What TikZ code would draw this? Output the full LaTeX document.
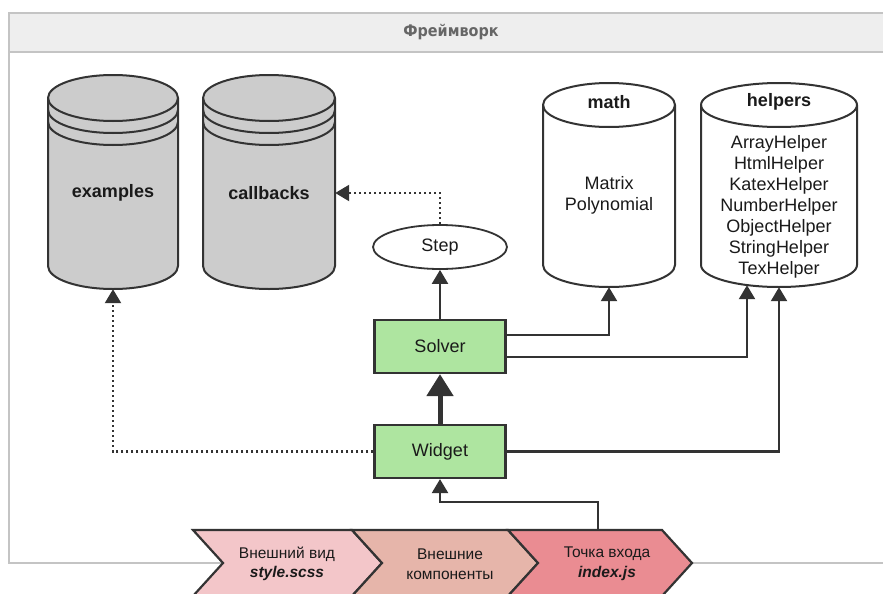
\documentclass[tikz,border=0pt]{standalone}
\usepackage{fontspec}
\setmainfont{Liberation Sans}
\newfontfamily\titlefont{DejaVu Sans Condensed}
\usetikzlibrary{arrows.meta,shapes.geometric}
\definecolor{ln}{HTML}{333333}
\definecolor{dbgray}{HTML}{CCCCCC}
\definecolor{grn}{HTML}{AEE5A0}
\definecolor{frm}{HTML}{C4C4C4}
\definecolor{hdr}{HTML}{EEEEEE}
\definecolor{ch1}{HTML}{F3C6C9}
\definecolor{ch2}{HTML}{E6B5AA}
\definecolor{ch3}{HTML}{EA8C92}
\definecolor{txt}{HTML}{1A1A1A}
\newcommand\cylshape[6]{%
  \filldraw[cylline,fill=#6] (#1-#4,#2) -- (#1-#4,#3)
    arc[start angle=180,end angle=360,x radius=#4pt,y radius=#5pt] -- (#1+#4,#2)
    arc[start angle=0,end angle=180,x radius=#4pt,y radius=#5pt] -- cycle;
  \draw[cylline] (#1-#4,#2) arc[start angle=180,end angle=360,x radius=#4pt,y radius=#5pt];}
\newcommand\cylring[4]{%
  \draw[cylline] (#1-#3,#2) arc[start angle=180,end angle=360,x radius=#3pt,y radius=#4pt];}
\begin{document}
\begin{tikzpicture}[x=1pt,y=-1pt,
  cylline/.style={draw=ln,line width=2pt},
  area/.style={draw=none,inner sep=0pt,minimum height=#1},
  lbl/.style={text=txt,font=\fontsize{18}{21}\selectfont,align=center,inner sep=0pt},
  blbl/.style={lbl,font=\fontsize{18}{21}\selectfont\bfseries},
  greenbox/.style={draw=ln,line width=2.2pt,fill=grn,minimum width=131pt,minimum height=53pt,inner sep=0pt,text=txt,font=\fontsize{18}{21}\selectfont},
  conn/.style={draw=ln,line width=2.3pt,-{Triangle[width=16pt,length=14pt]}},
  bigconn/.style={draw=ln,line width=5pt,-{Triangle[width=26pt,length=22pt]}},
  dotconn/.style={conn,dash pattern=on 2.2pt off 2.8pt},
  chev/.style={draw=ln,line width=2.2pt,line join=miter},
  chtxt/.style={text=txt,font=\fontsize{15.5}{19.5}\selectfont,align=center,inner sep=0pt}]
\clip (0,0) rectangle (883,594);
\useasboundingbox (0,0) rectangle (883,594);
% frame
\fill[white] (0,0) rectangle (883,594);
\draw[frm,line width=2pt,fill=white] (9,13) rectangle (900,563);
\draw[frm,line width=2pt,fill=hdr] (9,13) rectangle (900,52);
\node[text=black!60,font=\titlefont\bfseries\fontsize{16}{19}\selectfont] (title) at (451,32) {Фреймворк};
% cylinders
\cylshape{113}{98}{266}{65}{23}{dbgray}
\cylring{113}{110}{65}{23}
\cylring{113}{122}{65}{23}
\cylshape{269}{98}{266}{66}{23}{dbgray}
\cylring{269}{110}{66}{23}
\cylring{269}{122}{66}{23}
\cylshape{609}{105}{265}{66}{22}{white}
\cylshape{779}{105}{265}{78}{22}{white}
\node[area=214pt,minimum width=130pt] (examples) at (113,182) {};
\node[area=214pt,minimum width=132pt] (callbacks) at (269,182) {};
\node[area=204pt,minimum width=132pt] (math) at (609,185) {};
\node[area=204pt,minimum width=156pt] (helpers) at (779,185) {};
\node[blbl] (extxt) at (113,193) {examples};
\node[blbl] (cbtxt) at (269,193) {callbacks};
\node[blbl] (mathtitle) at (609,102) {math};
\node[blbl] (helperstitle) at (779,102) {helpers};
\node[lbl] (mathtxt) at (609,195) {Matrix\\Polynomial};
\node[lbl] (helperstxt) at (779,207) {ArrayHelper\\HtmlHelper\\KatexHelper\\NumberHelper\\ObjectHelper\\StringHelper\\TexHelper};
% step, solver, widget
\node[ellipse,draw=ln,line width=1.8pt,fill=white,minimum width=134pt,minimum height=44pt,inner sep=0pt,text=txt,font=\fontsize{18}{21}\selectfont] (step) at (440,247) {Step};
\node[greenbox] (solver) at (440,346.5) {Solver};
\node[greenbox] (widget) at (440,451.5) {Widget};
% chevrons
\filldraw[chev,fill=ch1] (193,530) -- (352,530) -- (382,563) -- (352,596) -- (193,596) -- (223,563) -- cycle;
\filldraw[chev,fill=ch2] (352,530) -- (508,530) -- (538,563) -- (508,596) -- (352,596) -- (382,563) -- cycle;
\filldraw[chev,fill=ch3] (508,530) -- (662,530) -- (692,563) -- (662,596) -- (508,596) -- (538,563) -- cycle;
\node[chtxt] (view) at (287,564) {Внешний вид\\\textbf{\textit{style.scss}}};
\node[chtxt] (ext) at (450,564) {Внешние\\компоненты};
\node[chtxt] (entry) at (607,564) {Точка входа\\\textbf{\textit{index.js}}};
\coordinate (entrytop) at (598,529);
% connectors
\draw[conn] (solver.north) -- (step.south);
\draw[bigconn] (widget.north) -- (solver.south);
\draw[dotconn] (step.north) |- ([yshift=-11pt]callbacks.east);
\draw[conn] ([yshift=11.5pt]solver.east) -| (math.south);
\draw[conn] ([yshift=-10.5pt]solver.east) -| ([xshift=-32pt,yshift=2pt]helpers.south);
\draw[conn] (widget.east) -| (helpers.south);
\draw[dotconn] (widget.west) -| (examples.south);
\draw[conn] (entrytop) -- ++(0,-27) -| (widget.south);
\end{tikzpicture}
\end{document}
